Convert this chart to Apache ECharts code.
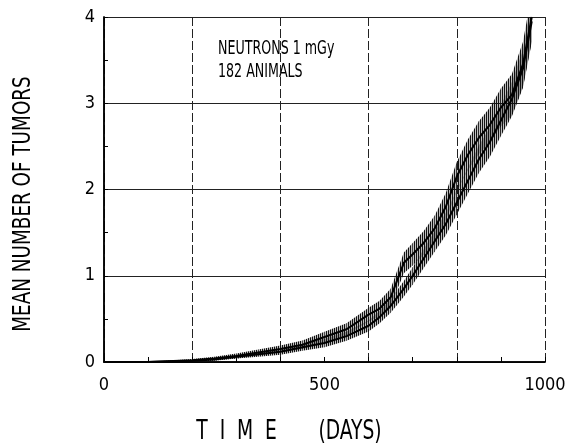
<!DOCTYPE html>
<html>
<head>
<meta charset="utf-8">
<script src="https://cdn.jsdelivr.net/npm/echarts@6/dist/echarts.min.js"></script>
<style>
  html, body { margin: 0; padding: 0; background: #fff; }
  #chart { width: 578px; height: 444px; }
</style>
</head>
<body>
<div id="chart"></div>
<script>
// time points (days)
var days = [0, 100, 200, 250, 300, 350, 400, 450, 500, 550, 600, 625, 650, 665, 680, 700, 725, 750, 775, 800, 825, 850, 875, 900, 925, 950, 970];
// observed mean number of tumors
var observed = [0, 0, 0.02, 0.04, 0.07, 0.11, 0.15, 0.2, 0.29, 0.38, 0.55, 0.62, 0.75, 0.95, 1.15, 1.25, 1.38, 1.55, 1.8, 2.15, 2.4, 2.6, 2.75, 2.95, 3.1, 3.45, 4.0];
var observedErr = [0, 0, 0.015, 0.02, 0.03, 0.035, 0.04, 0.05, 0.06, 0.07, 0.08, 0.09, 0.1, 0.11, 0.12, 0.13, 0.14, 0.15, 0.16, 0.17, 0.18, 0.19, 0.2, 0.22, 0.24, 0.26, 0.28];
// fitted curve
var fitted = [0, 0, 0.015, 0.03, 0.06, 0.09, 0.12, 0.17, 0.22, 0.3, 0.42, 0.52, 0.65, 0.75, 0.85, 1.0, 1.2, 1.4, 1.6, 1.85, 2.1, 2.35, 2.55, 2.8, 3.05, 3.4, 3.95];
var fittedErr = [0, 0, 0.012, 0.015, 0.02, 0.03, 0.035, 0.04, 0.05, 0.055, 0.065, 0.07, 0.08, 0.085, 0.09, 0.1, 0.11, 0.12, 0.13, 0.14, 0.15, 0.16, 0.17, 0.18, 0.2, 0.22, 0.24];

var labelText = ["NEUTRONS 1 mGy", "182 ANIMALS"];

// vertical hatch pattern for the error bands
function hatch() {
  var c = document.createElement("canvas");
  c.width = 2;
  c.height = 4;
  var ctx = c.getContext("2d");
  ctx.fillStyle = "#111";
  ctx.fillRect(0, 0, 1, 4);
  ctx.fillStyle = "rgba(0,0,0,0.25)";
  ctx.fillRect(1, 0, 1, 4);
  return c;
}
var hatchCanvas = hatch();

function pairs(ys) {
  return days.map(function (d, i) { return [d, ys[i]]; });
}

function bandSeries(mean, err) {
  return {
    type: "custom",
    xAxisIndex: 0,
    yAxisIndex: 0,
    clip: true,
    silent: true,
    data: days.slice(0, days.length - 1).map(function (d, i) { return [d, mean[i]]; }),
    renderItem: function (params, api) {
      var i = params.dataIndex;
      var a1 = api.coord([days[i], mean[i] - err[i]]);
      var b1 = api.coord([days[i + 1], mean[i + 1] - err[i + 1]]);
      var b2 = api.coord([days[i + 1], mean[i + 1] + err[i + 1]]);
      var a2 = api.coord([days[i], mean[i] + err[i]]);
      return {
        type: "polygon",
        shape: { points: [a1, b1, b2, a2] },
        style: { fill: { image: hatchCanvas, repeat: "repeat" }, stroke: null },
      };
    },
  };
}

var myChart = echarts.init(document.getElementById("chart"));
var font = "DejaVu Sans Condensed";

myChart.setOption({
  animation: false,
  grid: { left: 104, right: 33, top: 17, bottom: 82 },
  xAxis: [
    {
      type: "value",
      min: 0,
      max: 1000,
      interval: 100,
      position: "bottom",
      axisLine: { lineStyle: { color: "#000", width: 1.5 } },
      axisTick: { inside: true, length: 5, lineStyle: { color: "#000" } },
      axisLabel: {
        color: "#000",
        fontFamily: font,
        fontSize: 18,
        margin: 14,
        formatter: function (v) { return v % 500 === 0 ? String(v) : ""; },
      },
      splitLine: { show: false },
    },
    {
      type: "value",
      min: 0,
      max: 1000,
      interval: 200,
      position: "top",
      axisLine: { lineStyle: { color: "#000", width: 1.5 } },
      axisTick: { show: false },
      axisLabel: { show: false },
      splitLine: { show: true, lineStyle: { color: "#222", width: 1, type: [9, 3] } },
    },
  ],
  yAxis: [
    {
      type: "value",
      min: 0,
      max: 4,
      interval: 0.5,
      position: "left",
      axisLine: { show: true, lineStyle: { color: "#000", width: 1.5 } },
      axisTick: { show: true, inside: true, length: 4, lineStyle: { color: "#000" } },
      axisLabel: {
        color: "#000",
        fontFamily: font,
        fontSize: 18,
        margin: 9,
        formatter: function (v) { return v % 1 === 0 ? String(v) : ""; },
      },
      splitLine: { show: false },
    },
    {
      type: "value",
      min: 0,
      max: 4,
      interval: 1,
      position: "right",
      axisLine: { show: true, lineStyle: { color: "#000", width: 1.5 } },
      axisTick: { show: false },
      axisLabel: { show: false },
      splitLine: { show: true, lineStyle: { color: "#222", width: 1 } },
    },
  ],
  graphic: [
    {
      type: "text",
      left: 218,
      top: 40,
      scaleX: 0.74,
      style: { text: labelText[0], font: "19px '" + font + "'", fill: "#000" },
    },
    {
      type: "text",
      left: 218,
      top: 63,
      scaleX: 0.74,
      style: { text: labelText[1], font: "19px '" + font + "'", fill: "#000" },
    },
    {
      type: "text",
      x: 24,
      y: 204,
      rotation: Math.PI / 2,
      scaleX: 0.85,
      style: {
        text: "MEAN NUMBER OF TUMORS",
        font: "24px '" + font + "'",
        fill: "#000",
        align: "center",
        verticalAlign: "middle",
      },
    },
    {
      type: "text",
      x: 289,
      y: 432,
      scaleX: 0.8,
      style: {
        text: "T  I  M  E       (DAYS)",
        font: "26px '" + font + "'",
        fill: "#000",
        align: "center",
        verticalAlign: "middle",
      },
    },
  ],
  series: [
    bandSeries(fitted, fittedErr),
    bandSeries(observed, observedErr),
    {
      name: "fitted",
      type: "line",
      data: pairs(fitted),
      symbol: "none",
      clip: true,
      lineStyle: { color: "#000", width: 2 },
    },
    {
      name: "observed",
      type: "line",
      data: pairs(observed),
      symbol: "none",
      clip: true,
      lineStyle: { color: "#000", width: 2 },
    },
  ],
});
</script>
</body>
</html>
